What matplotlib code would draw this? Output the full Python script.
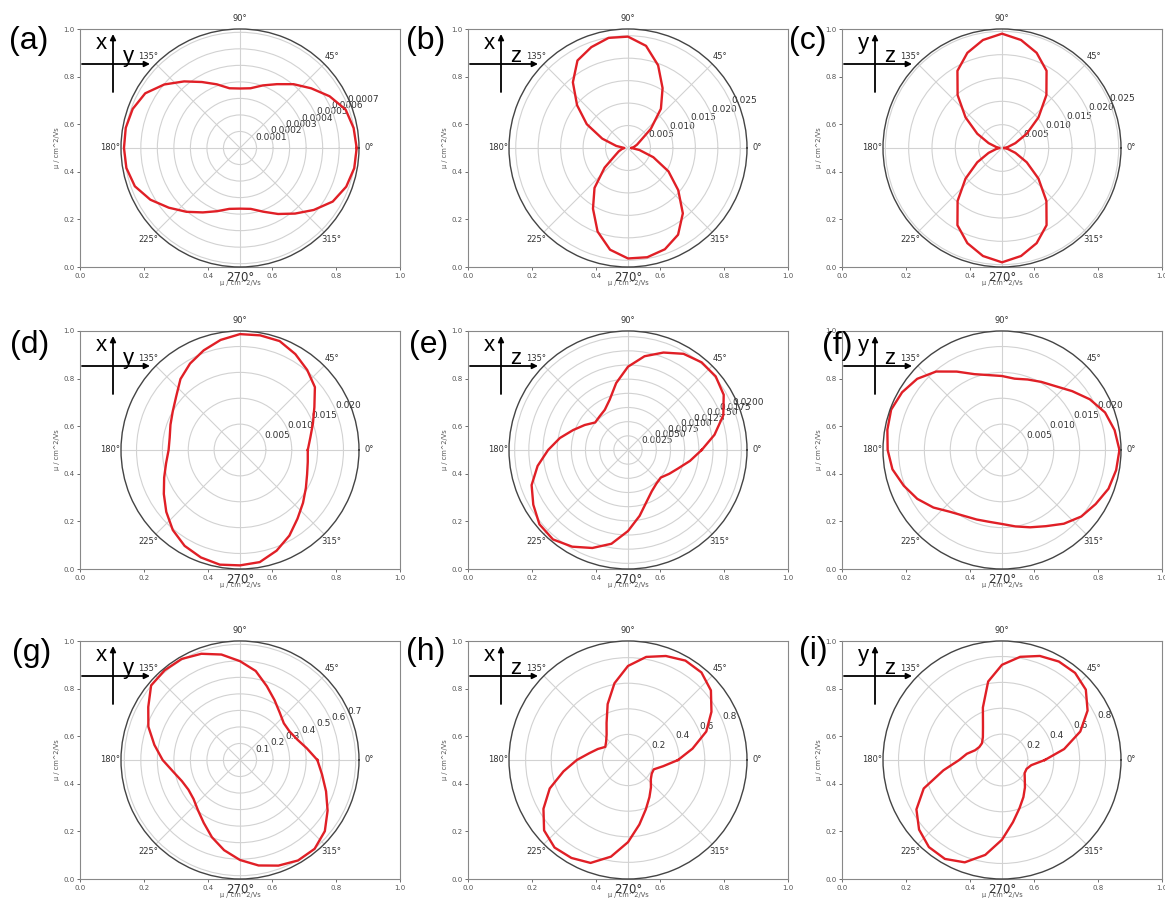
import matplotlib.pyplot as plt
import numpy as np

W, H = 1165, 898
RED = '#e01f26'

# sample angles (degrees), every 10 degrees
angles_deg = np.arange(0, 360, 10)

# mobility values (cm^2/Vs)
r_a = np.array([7.06, 6.98, 6.80, 6.26, 5.62, 5.04, 4.46, 4.03, 3.67, 3.60, 3.67, 4.10,
                4.61, 5.26, 5.98, 6.62, 6.91, 7.02, 7.02, 6.98, 6.77, 6.26, 5.62, 5.04,
                4.50, 4.07, 3.74, 3.67, 3.74, 4.10, 4.61, 5.18, 5.83, 6.48, 6.84, 7.02]) * 1e-4
r_b = np.array([0.80, 1.33, 2.12, 3.18, 6.63, 11.4, 15.4, 19.6, 23.1, 24.8, 24.9, 23.9,
                22.5, 19.1, 14.8, 10.6, 6.10, 2.65, 0.80, 1.40, 2.20, 3.30, 6.80, 11.6,
                15.6, 19.8, 23.0, 24.6, 24.7, 24.0, 22.3, 19.0, 14.6, 10.4, 6.00, 2.60]) * 1e-3
r_c = np.array([0.51, 1.28, 3.06, 6.12, 10.2, 14.8, 19.1, 21.7, 23.5, 24.5, 23.5, 21.7,
                19.1, 14.8, 10.2, 6.12, 3.06, 1.28, 0.51, 1.28, 3.06, 6.12, 10.2, 14.8,
                19.1, 21.7, 23.5, 24.5, 23.5, 21.7, 19.1, 14.8, 10.2, 6.12, 3.06, 1.28]) * 1e-3
r_d = np.array([13.1, 13.8, 15.0, 16.6, 18.9, 20.2, 21.4, 22.4, 22.5, 22.4, 21.6, 20.5,
                19.3, 17.9, 16.1, 15.0, 14.3, 13.8, 13.8, 14.5, 15.6, 17.0, 18.6, 20.2,
                21.4, 22.1, 22.5, 22.3, 22.0, 20.7, 19.1, 17.3, 15.9, 14.7, 13.8, 13.3]) * 1e-3
r_e = np.array([13.0, 15.5, 17.9, 19.5, 20.2, 20.2, 19.6, 18.3, 16.8, 14.7, 12.0, 9.45,
                8.19, 7.77, 7.56, 8.82, 10.3, 12.2, 14.1, 16.2, 18.1, 19.3, 20.4, 20.6,
                19.7, 18.4, 16.8, 14.3, 11.8, 9.66, 8.40, 7.77, 7.56, 8.40, 9.45, 11.1]) * 1e-3
r_f = np.array([22.7, 22.1, 21.2, 19.6, 17.7, 16.1, 15.2, 14.5, 14.0, 14.3, 14.7, 15.6,
                17.5, 19.8, 21.4, 22.3, 22.8, 22.5, 22.1, 21.5, 20.2, 18.9, 17.3, 15.6,
                14.7, 14.3, 14.1, 14.3, 15.0, 15.9, 17.0, 18.6, 20.0, 20.9, 21.9, 22.4]) * 1e-3
r_g = np.array([0.468, 0.410, 0.367, 0.346, 0.346, 0.374, 0.418, 0.475, 0.547, 0.598, 0.648, 0.684,
                0.706, 0.709, 0.702, 0.641, 0.590, 0.526, 0.468, 0.410, 0.374, 0.360, 0.367, 0.396,
                0.439, 0.497, 0.554, 0.605, 0.648, 0.680, 0.702, 0.702, 0.670, 0.612, 0.554, 0.504])
r_h = np.array([0.391, 0.512, 0.651, 0.753, 0.846, 0.893, 0.897, 0.865, 0.818, 0.735, 0.609, 0.465,
                0.335, 0.260, 0.223, 0.205, 0.251, 0.307, 0.400, 0.512, 0.651, 0.763, 0.856, 0.893,
                0.884, 0.856, 0.767, 0.642, 0.512, 0.409, 0.335, 0.279, 0.233, 0.214, 0.214, 0.279])
r_i = np.array([0.331, 0.488, 0.644, 0.764, 0.846, 0.879, 0.879, 0.856, 0.810, 0.736, 0.616, 0.432,
                0.294, 0.230, 0.202, 0.202, 0.221, 0.276, 0.331, 0.460, 0.644, 0.764, 0.837, 0.879,
                0.883, 0.842, 0.745, 0.616, 0.488, 0.396, 0.331, 0.276, 0.230, 0.202, 0.202, 0.230])

# radial ticks per panel
rt_a = [0.0001, 0.0002, 0.0003, 0.0004, 0.0005, 0.0006, 0.0007]
rt_bc = [0.005, 0.010, 0.015, 0.020, 0.025]
rt_df = [0.005, 0.010, 0.015, 0.020]
rt_e = [0.0025, 0.0050, 0.0075, 0.0100, 0.0125, 0.0150, 0.0175, 0.0200]
rt_g = [0.1, 0.2, 0.3, 0.4, 0.5, 0.6, 0.7]
rt_hi = [0.2, 0.4, 0.6, 0.8]

panel_names = ['(a)', '(b)', '(c)', '(d)', '(e)', '(f)', '(g)', '(h)', '(i)']
axis_names = [('x', 'y'), ('x', 'z'), ('y', 'z')]

fig = plt.figure(figsize=(W / 100, H / 100), dpi=100)
col_left = [80, 468, 842]
row_top = [29, 331, 641]
box_w, box_h = 320, 238


def draw_panel(col, row, r, rmax, rticks, fmt):
    left, top = col_left[col], row_top[row]
    rect = [left / W, 1 - (top + box_h) / H, box_w / W, box_h / H]

    # cartesian frame behind the polar plot
    ax = fig.add_axes(rect)
    ax.set_xlim(0, 1)
    ax.set_ylim(0, 1)
    ax.set_xticks(np.linspace(0, 1, 6))
    ax.set_yticks(np.linspace(0, 1, 6))
    ax.tick_params(labelsize=5, length=2.5, width=0.6, colors='#555', pad=1.5)
    for s in ax.spines.values():
        s.set_color('#888')
        s.set_linewidth(0.8)
    ax.set_xlabel('μ / cm^2/Vs', fontsize=4.8, labelpad=1, color='#555')
    ax.set_ylabel('μ / cm^2/Vs', fontsize=4.8, labelpad=2, color='#555')

    pax = fig.add_axes(rect, projection='polar')
    th = np.deg2rad(np.append(angles_deg, angles_deg[0]))
    pax.plot(th, np.append(r, r[0]), color=RED, lw=1.7)
    pax.set_rgrids(rticks, labels=[fmt.format(t) for t in rticks], fontsize=6.5, color='#333')
    pax.set_ylim(0, rmax)
    _, labs = pax.set_thetagrids(range(0, 360, 45), fontsize=6, color='#333')
    labs[6].set_fontsize(8.5)
    pax.tick_params(axis='x', pad=-3)
    pax.grid(color='#d2d2d2', lw=0.8)
    pax.spines['polar'].set_color('#444')
    pax.spines['polar'].set_linewidth(1.0)


draw_panel(0, 0, r_a, 0.00072, rt_a, '{:.4f}')
draw_panel(1, 0, r_b, 0.0265, rt_bc, '{:.3f}')
draw_panel(2, 0, r_c, 0.0255, rt_bc, '{:.3f}')
draw_panel(0, 1, r_d, 0.023, rt_df, '{:.3f}')
draw_panel(1, 1, r_e, 0.021, rt_e, '{:.4f}')
draw_panel(2, 1, r_f, 0.023, rt_df, '{:.3f}')
draw_panel(0, 2, r_g, 0.72, rt_g, '{:.1f}')
draw_panel(1, 2, r_h, 0.93, rt_hi, '{:.1f}')
draw_panel(2, 2, r_i, 0.92, rt_hi, '{:.1f}')

# overlay in pixel coordinates for panel letters and direction arrows
ov = fig.add_axes([0, 0, 1, 1])
ov.set_xlim(0, W)
ov.set_ylim(H, 0)
ov.axis('off')

label_pos = [(9, 26), (406, 26), (789, 26),
             (10, 330), (409, 330), (822, 331),
             (12, 638), (406, 637), (799, 636)]
for k, name in enumerate(panel_names):
    lx, ly = label_pos[k]
    ov.text(lx, ly, name, fontsize=23, family='Liberation Sans', va='top', ha='left')

for row in range(3):
    for col in range(3):
        left, top = col_left[col], row_top[row]
        a1, a2 = axis_names[col]
        ov.annotate('', xy=(left + 70, top + 35), xytext=(left + 2, top + 35),
                    arrowprops=dict(arrowstyle='-|>', color='black', lw=1.3, mutation_scale=8,
                                    shrinkA=0, shrinkB=0))
        ov.annotate('', xy=(left + 33, top + 5), xytext=(left + 33, top + 63),
                    arrowprops=dict(arrowstyle='-|>', color='black', lw=1.3, mutation_scale=8,
                                    shrinkA=0, shrinkB=0))
        ov.text(left + 21, top + 20, a1, fontsize=16, family='Liberation Sans',
                ha='center', va='baseline')
        ov.text(left + 48, top + 33, a2, fontsize=16, family='Liberation Sans',
                ha='center', va='baseline')

fig.savefig('out.png', dpi=100)
